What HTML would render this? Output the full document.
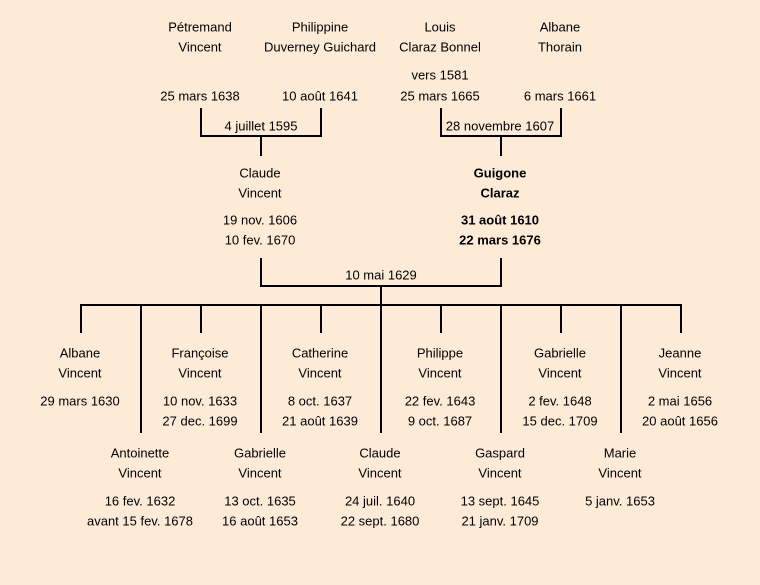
<!DOCTYPE html>
<html><head><meta charset="utf-8"><style>
html,body{margin:0;padding:0;background:#fdebd8;}
svg{display:block}
text{font-family:"Liberation Sans",sans-serif;font-size:13px;fill:#000;text-anchor:middle;dominant-baseline:middle}
.b{font-weight:bold}
</style></head><body>
<svg width="760" height="585" viewBox="0 0 760 585">
<rect width="760" height="585" fill="#fdebd8"/>
<g stroke="#000" stroke-width="2" fill="none">
<polyline points="201,108 201,136 321,136 321,108"/>
<line x1="261" y1="136" x2="261" y2="156"/>
<polyline points="441,108 441,136 561,136 561,108"/>
<line x1="501" y1="136" x2="501" y2="156"/>
<polyline points="261,258 261,286 501,286 501,258"/>
<line x1="381" y1="286" x2="381" y2="305"/>
<line x1="80" y1="305" x2="682" y2="305"/>
<line x1="81" y1="305" x2="81" y2="333"/>
<line x1="201" y1="305" x2="201" y2="333"/>
<line x1="321" y1="305" x2="321" y2="333"/>
<line x1="441" y1="305" x2="441" y2="333"/>
<line x1="561" y1="305" x2="561" y2="333"/>
<line x1="681" y1="305" x2="681" y2="333"/>
<line x1="141" y1="305" x2="141" y2="433"/>
<line x1="261" y1="305" x2="261" y2="433"/>
<line x1="381" y1="305" x2="381" y2="433"/>
<line x1="501" y1="305" x2="501" y2="433"/>
<line x1="621" y1="305" x2="621" y2="433"/>
</g>
<g transform="translate(0,1)">
<text x="200" y="27">Pétremand</text><text x="200" y="47">Vincent</text><text x="200" y="96">25 mars 1638</text>
<text x="320" y="27">Philippine</text><text x="320" y="47">Duverney Guichard</text><text x="320" y="96">10 août 1641</text>
<text x="440" y="27">Louis</text><text x="440" y="47">Claraz Bonnel</text><text x="440" y="75">vers 1581</text><text x="440" y="96">25 mars 1665</text>
<text x="560" y="27">Albane</text><text x="560" y="47">Thorain</text><text x="560" y="96">6 mars 1661</text>
<text x="261" y="126">4 juillet 1595</text>
<text x="500" y="126">28 novembre 1607</text>
<text x="260" y="173">Claude</text><text x="260" y="193">Vincent</text><text x="260" y="220">19 nov. 1606</text><text x="260" y="240">10 fev. 1670</text>
<text class="b" x="500" y="173">Guigone</text><text class="b" x="500" y="193">Claraz</text><text class="b" x="500" y="220">31 août 1610</text><text class="b" x="500" y="240">22 mars 1676</text>
<text x="381" y="275">10 mai 1629</text>
<text x="80" y="353">Albane</text><text x="80" y="373">Vincent</text><text x="80" y="401">29 mars 1630</text>
<text x="200" y="353">Françoise</text><text x="200" y="373">Vincent</text><text x="200" y="401">10 nov. 1633</text><text x="200" y="421">27 dec. 1699</text>
<text x="320" y="353">Catherine</text><text x="320" y="373">Vincent</text><text x="320" y="401">8 oct. 1637</text><text x="320" y="421">21 août 1639</text>
<text x="440" y="353">Philippe</text><text x="440" y="373">Vincent</text><text x="440" y="401">22 fev. 1643</text><text x="440" y="421">9 oct. 1687</text>
<text x="560" y="353">Gabrielle</text><text x="560" y="373">Vincent</text><text x="560" y="401">2 fev. 1648</text><text x="560" y="421">15 dec. 1709</text>
<text x="680" y="353">Jeanne</text><text x="680" y="373">Vincent</text><text x="680" y="401">2 mai 1656</text><text x="680" y="421">20 août 1656</text>
<text x="140" y="453">Antoinette</text><text x="140" y="473">Vincent</text><text x="140" y="501">16 fev. 1632</text><text x="140" y="521">avant 15 fev. 1678</text>
<text x="260" y="453">Gabrielle</text><text x="260" y="473">Vincent</text><text x="260" y="501">13 oct. 1635</text><text x="260" y="521">16 août 1653</text>
<text x="380" y="453">Claude</text><text x="380" y="473">Vincent</text><text x="380" y="501">24 juil. 1640</text><text x="380" y="521">22 sept. 1680</text>
<text x="500" y="453">Gaspard</text><text x="500" y="473">Vincent</text><text x="500" y="501">13 sept. 1645</text><text x="500" y="521">21 janv. 1709</text>
<text x="620" y="453">Marie</text><text x="620" y="473">Vincent</text><text x="620" y="501">5 janv. 1653</text>
</g>
</svg>
</body></html>
